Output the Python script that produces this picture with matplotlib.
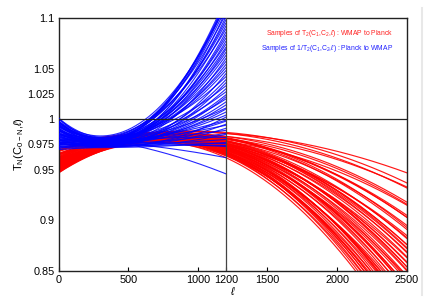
import numpy as np
import matplotlib
matplotlib.use("Agg")
import matplotlib.pyplot as plt
from matplotlib.lines import Line2D

plt.rcParams['font.family'] = ['Liberation Sans', 'DejaVu Sans']
plt.rcParams['mathtext.fontset'] = 'custom'
plt.rcParams['mathtext.rm'] = 'Liberation Sans'
plt.rcParams['mathtext.it'] = 'Liberation Sans:italic'

# red samples: T2 at l = 0, 1200, 2500 (WMAP to Planck)
red_l = [0, 1200, 2500]
red_at_0 = [0.975, 0.969, 0.970, 0.971, 0.965, 0.968, 0.966, 0.969, 0.964, 0.965,
            0.966, 0.961, 0.965, 0.962, 0.966, 0.960, 0.962, 0.963, 0.958, 0.962,
            0.960, 0.963, 0.958, 0.960, 0.961, 0.956, 0.959, 0.957, 0.961, 0.956,
            0.957, 0.959, 0.954, 0.957, 0.955, 0.958, 0.953, 0.955, 0.957, 0.951,
            0.955, 0.953, 0.956, 0.951, 0.952, 0.954, 0.949, 0.953, 0.950, 0.954,
            0.949, 0.950, 0.952, 0.947, 0.950, 0.948, 0.951, 0.947, 0.948, 0.949]
red_at_1200 = [0.986, 0.987, 0.983, 0.986, 0.981, 0.983, 0.978, 0.981, 0.981, 0.980,
               0.981, 0.978, 0.982, 0.976, 0.979, 0.974, 0.977, 0.978, 0.976, 0.978,
               0.975, 0.979, 0.973, 0.976, 0.972, 0.974, 0.975, 0.974, 0.975, 0.972,
               0.976, 0.971, 0.973, 0.969, 0.972, 0.972, 0.971, 0.973, 0.970, 0.973,
               0.968, 0.971, 0.966, 0.969, 0.970, 0.968, 0.970, 0.967, 0.971, 0.965,
               0.968, 0.964, 0.966, 0.967, 0.966, 0.967, 0.964, 0.968, 0.962, 0.965]
red_at_2500 = [0.947, 0.937, 0.933, 0.932, 0.916, 0.918, 0.915, 0.903, 0.903, 0.905,
               0.891, 0.895, 0.893, 0.883, 0.882, 0.885, 0.872, 0.876, 0.876, 0.868,
               0.869, 0.873, 0.859, 0.864, 0.863, 0.854, 0.854, 0.858, 0.845, 0.850,
               0.851, 0.840, 0.842, 0.844, 0.832, 0.835, 0.835, 0.827, 0.828, 0.832,
               0.818, 0.823, 0.822, 0.813, 0.813, 0.817, 0.804, 0.810, 0.810, 0.799,
               0.801, 0.803, 0.791, 0.794, 0.795, 0.784, 0.785, 0.788, 0.776, 0.779]

# blue samples: 1/T2 at l = 0, 400, 1200 (Planck to WMAP)
blue_l = [0, 400, 1200]
blue_at_0 = [0.975, 0.970, 0.977, 0.972, 0.973, 0.971, 0.976, 0.977, 0.973, 0.979,
             0.975, 0.976, 0.974, 0.979, 0.980, 0.976, 0.982, 0.978, 0.979, 0.977,
             0.982, 0.984, 0.979, 0.985, 0.981, 0.983, 0.980, 0.986, 0.987, 0.983,
             0.989, 0.985, 0.986, 0.984, 0.989, 0.991, 0.986, 0.993, 0.989, 0.990,
             0.988, 0.993, 0.995, 0.990, 0.997, 0.992, 0.994, 0.991, 0.997, 0.998,
             0.994, 1.001, 0.996, 0.998, 0.995, 1.000, 1.001, 0.997, 0.985, 0.980]
blue_at_400 = [0.976, 0.973, 0.977, 0.972, 0.974, 0.978, 0.973, 0.976, 0.977, 0.974,
               0.978, 0.973, 0.975, 0.979, 0.973, 0.976, 0.978, 0.975, 0.979, 0.974,
               0.976, 0.980, 0.974, 0.977, 0.979, 0.976, 0.980, 0.975, 0.977, 0.981,
               0.975, 0.979, 0.980, 0.977, 0.981, 0.976, 0.978, 0.982, 0.977, 0.980,
               0.981, 0.978, 0.982, 0.977, 0.979, 0.984, 0.978, 0.981, 0.982, 0.979,
               0.983, 0.978, 0.981, 0.985, 0.979, 0.982, 0.983, 0.980, 0.978, 0.977]
blue_at_1200 = [0.973, 0.974, 0.976, 0.977, 0.980, 0.982, 0.985, 0.986, 0.989, 0.991,
                0.994, 0.995, 0.998, 0.999, 1.002, 1.004, 1.007, 1.010, 1.011, 1.014,
                1.017, 1.020, 1.022, 1.024, 1.027, 1.030, 1.033, 1.036, 1.039, 1.042,
                1.045, 1.048, 1.051, 1.054, 1.057, 1.060, 1.063, 1.066, 1.069, 1.071,
                1.074, 1.077, 1.080, 1.083, 1.086, 1.089, 1.092, 1.095, 1.098, 1.101,
                1.104, 1.107, 1.110, 1.113, 1.114, 1.116, 1.117, 1.120, 0.946, 0.962]

xticks = [0, 500, 1000, 1200, 1500, 2000, 2500]
yticks = [0.85, 0.9, 0.95, 0.975, 1, 1.025, 1.05, 1.1]
ytick_labels = ['0.85', '0.9', '0.95', '0.975', '1', '1.025', '1.05', '1.1']

fig = plt.figure(figsize=(4.32, 3.05), dpi=100)
ax = fig.add_axes([0.1359, 0.1125, 0.8055, 0.8275])

ell_red = np.linspace(0, 2500, 300)
for a, b, c in zip(red_at_0, red_at_1200, red_at_2500):
    coef = np.polyfit(red_l, [a, b, c], 2)
    ax.plot(ell_red, np.polyval(coef, ell_red), color='#ff0000', lw=0.85, alpha=0.9, zorder=2)

ell_blue = np.linspace(0, 1200, 200)
for a, b, c in zip(blue_at_0, blue_at_400, blue_at_1200):
    coef = np.polyfit(blue_l, [a, b, c], 2)
    ax.plot(ell_blue, np.polyval(coef, ell_blue), color='#0000ff', lw=0.8, alpha=0.85, zorder=3)

ax.axhline(1.0, color='#222222', lw=0.9, zorder=5)
ax.axvline(1200, color='#444444', lw=0.9, zorder=5)

ax.set_xlim(0, 2500)
ax.set_ylim(0.85, 1.1)
ax.set_xticks(xticks)
ax.set_yticks(yticks)
ax.set_yticklabels(ytick_labels)
ax.tick_params(direction='in', length=3, labelsize=7.8, pad=3)
ax.tick_params(axis='y', length=0)
for s in ax.spines.values():
    s.set_linewidth(1.0)
    s.set_color('#222222')

ax.set_xlabel(r'$\ell$', fontsize=8, labelpad=0)
ax.set_ylabel(r'T$_\mathregular{N}$(C$_\mathregular{0-N}$,$\ell$)', fontsize=8, labelpad=1)

ax.text(0.96, 0.94, r'Samples of T$_\mathregular{2}$(C$_\mathregular{1}$,C$_\mathregular{2}$,$\ell$) : WMAP to Planck',
        transform=ax.transAxes, color='#ff2020', fontsize=4.9, ha='right', va='center')
ax.text(0.96, 0.88, r'Samples of 1/T$_\mathregular{2}$(C$_\mathregular{1}$,C$_\mathregular{2}$,$\ell$) : Planck to WMAP',
        transform=ax.transAxes, color='#2020ff', fontsize=4.9, ha='right', va='center')

fig.add_artist(Line2D([0.976, 0.976], [0.033, 0.974], color='#e8e8e8', lw=1.5))

fig.savefig('out.png', dpi=100)
